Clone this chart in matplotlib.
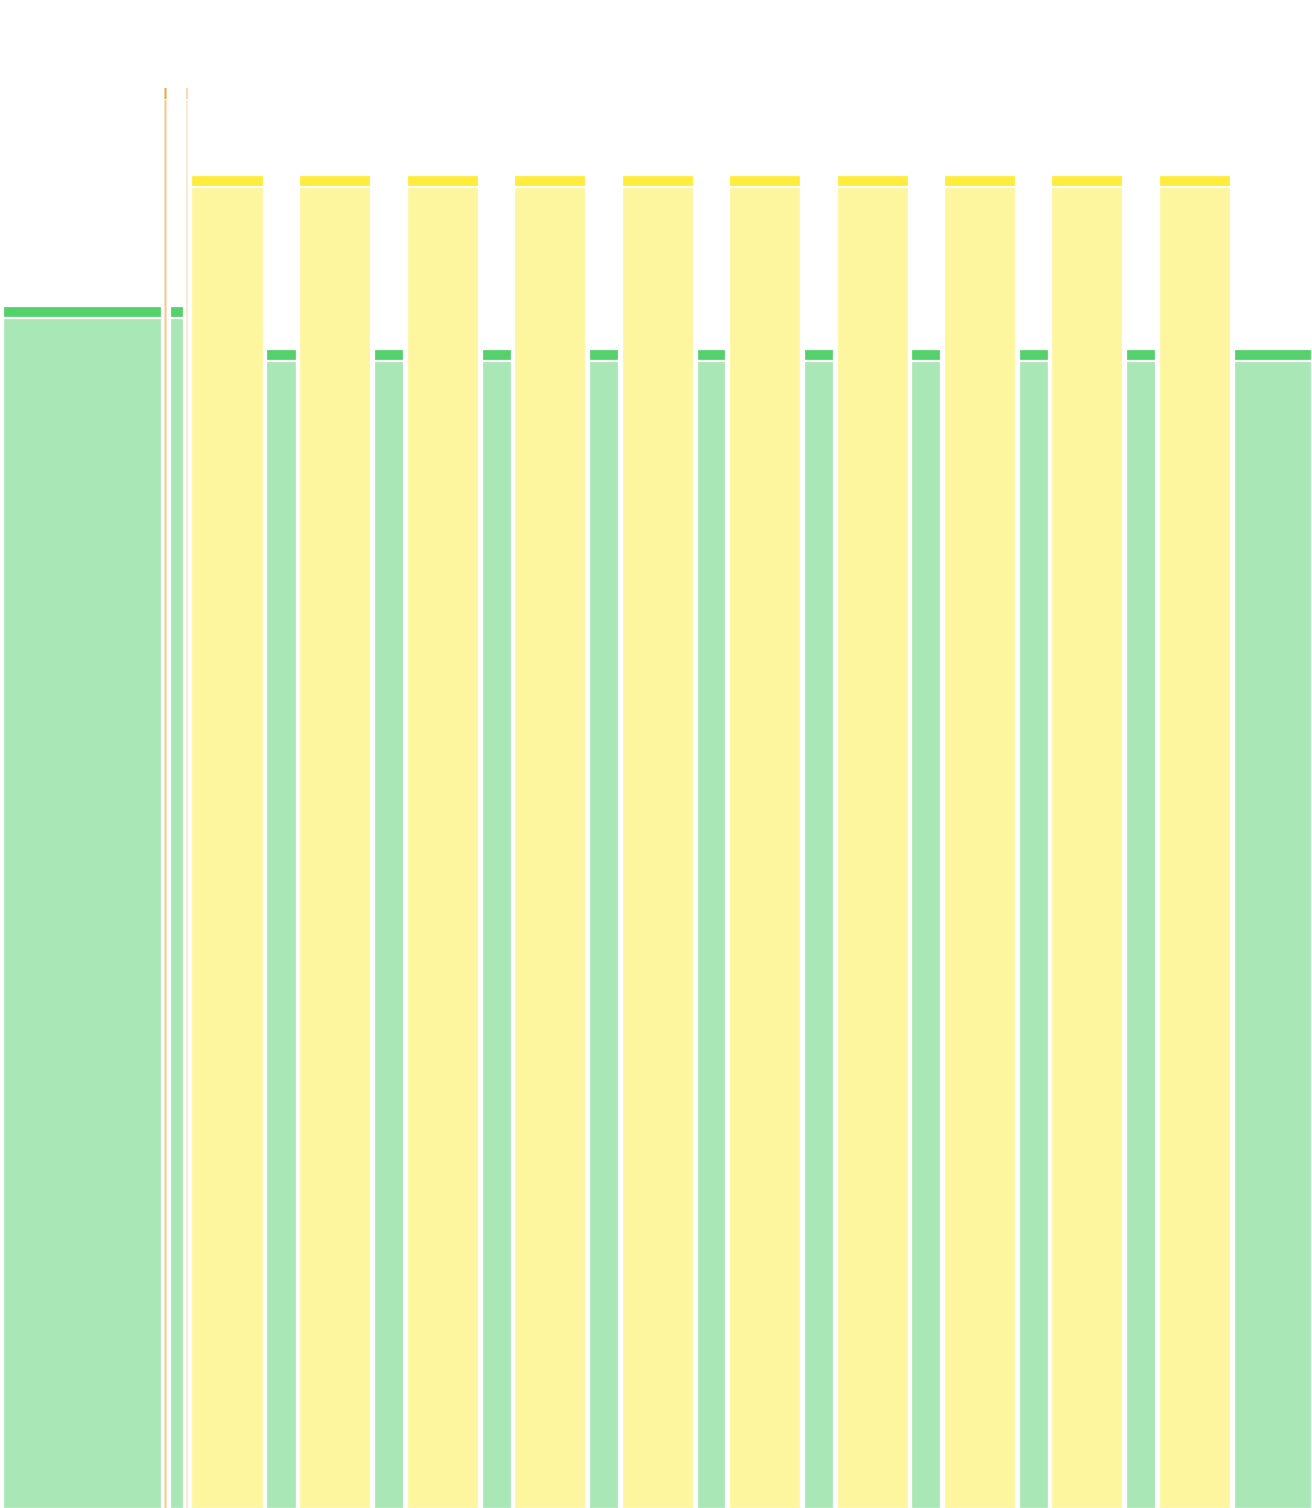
import matplotlib
matplotlib.use("Agg")
import matplotlib.pyplot as plt
from matplotlib.patches import Rectangle

# spans on the time axis (start, end) and how tall each column is
green_start = [3, 170, 266, 374, 482, 589, 697, 804, 911, 1019, 1126, 1234]
green_end = [161, 183, 296, 403, 511, 618, 725, 833, 940, 1048, 1155, 1311]
green_height = [1202, 1202, 1159, 1159, 1159, 1159, 1159, 1159, 1159, 1159, 1159, 1159]

yellow_start = [191, 299, 407, 514, 622, 729, 837, 944, 1051, 1159]
yellow_end = [263, 370, 478, 585, 693, 800, 908, 1015, 1122, 1230]
yellow_height = [1333] * 10

orange_start = [164.5, 186.2]
orange_end = [166.5, 187.8]
orange_height = [1420, 1420]

HEADER = 11
W, H = 1312, 1508

styles = {
    "green": ("#55d16b", "#aae7b6"),
    "yellow": ("#ffec3b", "#fdf69e"),
    "orange": ("#f2a534", "#f6c98b"),
}
orange_alpha = [1.0, 0.5]

fig = plt.figure(figsize=(W / 100, H / 100), dpi=100)
ax = fig.add_axes([0, 0, 1, 1])
ax.set_xlim(0, W)
ax.set_ylim(0, H)
ax.axis("off")


def draw(starts, ends, heights, key, edge=True, alphas=None):
    head, body = styles[key]
    ec = "white" if edge else "none"
    lw = 0.9 if edge else 0
    if alphas is None:
        alphas = [1.0] * len(starts)
    for s, e, h, a in zip(starts, ends, heights, alphas):
        ax.add_patch(Rectangle((s, 0), e - s, h - HEADER - 1, facecolor=body,
                               edgecolor=ec, linewidth=lw, alpha=a, snap=edge))
        ax.add_patch(Rectangle((s, h - HEADER), e - s, HEADER, facecolor=head,
                               edgecolor=ec, linewidth=lw, alpha=a, snap=edge))


draw(green_start, green_end, green_height, "green")
draw(yellow_start, yellow_end, yellow_height, "yellow")
draw(orange_start, orange_end, orange_height, "orange", edge=False, alphas=orange_alpha)

fig.savefig("out.png", dpi=100, facecolor="white")
